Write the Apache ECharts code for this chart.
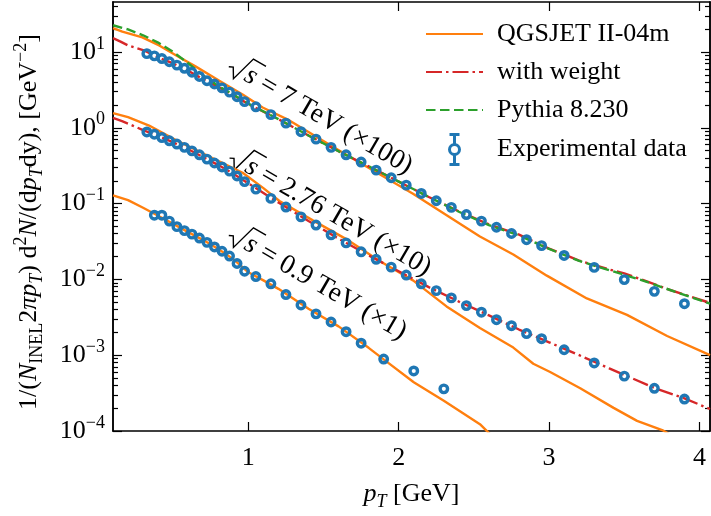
<!DOCTYPE html>
<html><head><meta charset="utf-8">
<script src="https://cdn.jsdelivr.net/npm/echarts@6/dist/echarts.min.js"></script>
<style>html,body{margin:0;padding:0;background:#fff}#c{width:711px;height:516px}</style>
</head><body><div id="c"></div>
<script>
const FONT = '"Liberation Serif", "Times New Roman", serif';

// ---------- data (plotted values, scale factors included) ----------
const xTicks = [1, 2, 3, 4];
const yMajor = [1e-4, 1e-3, 1e-2, 1e-1, 1, 10];

// Experimental data
const exp7_pt  = [0.325,0.375,0.425,0.475,0.525,0.575,0.625,0.675,0.725,0.775,0.825,0.875,0.925,0.975,1.05,1.15,1.25,1.35,1.45,1.55,1.65,1.75,1.85,1.95,2.05,2.15,2.25,2.35,2.45,2.55,2.65,2.75,2.85,2.95,3.1,3.3,3.5,3.7,3.9];
const exp7_val = [9.5,8.88,8.19,7.43,6.71,6.09,5.40,4.75,4.17,3.78,3.36,2.95,2.57,2.21,1.89,1.49,1.15,0.888,0.708,0.552,0.440,0.353,0.276,0.219,0.175,0.136,0.109,0.0891,0.0716,0.0587,0.0487,0.0403,0.0334,0.0279,0.0207,0.0144,0.00993,0.00695,0.00478];
const exp276_pt  = [0.325,0.375,0.425,0.475,0.525,0.575,0.625,0.675,0.725,0.775,0.825,0.875,0.925,0.975,1.05,1.15,1.25,1.35,1.45,1.55,1.65,1.75,1.85,1.95,2.05,2.15,2.25,2.35,2.45,2.55,2.65,2.75,2.85,2.95,3.1,3.3,3.5,3.7,3.9];
const exp276_val = [0.880,0.822,0.743,0.673,0.610,0.552,0.496,0.440,0.386,0.343,0.304,0.268,0.231,0.195,0.155,0.117,0.090,0.0667,0.0521,0.0387,0.0303,0.0231,0.0184,0.0145,0.0114,0.00875,0.0071,0.0057,0.00451,0.00369,0.00294,0.00245,0.00193,0.00165,0.00118,0.00079,0.00053,0.000366,0.000264];
const exp09_pt  = [0.375,0.425,0.475,0.525,0.575,0.625,0.675,0.725,0.775,0.825,0.875,0.925,0.975,1.05,1.15,1.25,1.35,1.45,1.55,1.65,1.75,1.9,2.1,2.3];
const exp09_val = [0.0702,0.0702,0.0587,0.0496,0.0440,0.0395,0.0351,0.0308,0.0268,0.0235,0.0203,0.0162,0.0128,0.0109,0.00875,0.00631,0.00459,0.00351,0.00274,0.00204,0.00144,0.00089,0.00062,0.00036];

// QGSJET II-04m
const qgs7_pt  = [0.1,0.162,0.295,0.407,0.518,0.651,0.807,0.962,1.095,1.273,1.651,2.095,2.54,2.762,2.985,3.251,3.518,3.785,4.07];
const qgs7_val = [20.6,18.5,15.6,12.2,9.03,6.40,4.17,2.75,1.85,1.25,0.44,0.135,0.0368,0.0213,0.0112,0.0056,0.0034,0.00179,0.0010];
const qgs276_pt  = [0.1,0.2,0.34,0.518,0.74,0.962,1.1,1.207,1.429,1.651,1.873,2.095,2.318,2.54,2.762,2.895,3.007,3.207,3.429,3.585,3.752,3.85];
const qgs276_val = [1.56,1.38,1.07,0.687,0.418,0.255,0.16,0.108,0.060,0.034,0.0175,0.0097,0.0044,0.00229,0.00126,0.00077,0.00060,0.000366,0.000202,0.000136,0.000103,0.00008];
const qgs09_pt  = [0.1,0.2,0.3,0.4,0.5,0.6,0.7,0.8,0.9,1.0,1.1,1.2,1.4,1.6,1.8,1.9,2.1,2.3,2.54,2.65];
const qgs09_val = [0.128,0.111,0.088,0.069,0.054,0.042,0.033,0.0252,0.0185,0.0124,0.0097,0.0075,0.0041,0.0024,0.00125,0.00088,0.00044,0.00025,0.000123,0.000075];

// with weight
const wgt7_pt  = [0.1,0.15,0.2,0.3,0.4,0.5,0.6,0.7,0.8,0.9,1.0,1.2,1.4,1.6,1.8,2.0,2.2,2.4,2.6,2.8,3.0,3.2,3.4,3.5,3.6,3.8,4.07];
const wgt7_val = [15.2,13.7,12.2,10.6,8.5,7.05,5.65,4.35,3.45,2.7,2.05,1.3,0.79,0.49,0.31,0.195,0.122,0.079,0.053,0.039,0.0255,0.0177,0.0135,0.0120,0.0102,0.0073,0.0049];
const wgt276_pt  = [0.1,0.16,0.23,0.3,0.4,0.5,0.6,0.7,0.8,0.9,1.0,1.2,1.4,1.6,1.8,2.0,2.2,2.4,2.6,2.8,3.0,3.2,3.4,3.5,3.7,3.9,4.07];
const wgt276_val = [1.35,1.22,1.07,0.93,0.78,0.64,0.52,0.41,0.322,0.248,0.185,0.103,0.059,0.0345,0.0207,0.0128,0.0079,0.0051,0.00335,0.00218,0.00148,0.00100,0.00067,0.00055,0.00037,0.00027,0.000195];

// Pythia 8.230
const py7_pt  = [0.1,0.2,0.3,0.4,0.5,0.6,0.7,0.8,0.9,1.0,1.2,1.4,1.6,1.8,2.0,2.2,2.4,2.6,2.8,3.0,3.2,3.4,3.6,3.8,4.07];
const py7_val = [22.5,19.8,16.6,13.3,10.0,7.1,4.9,3.55,2.75,2.08,1.3,0.79,0.49,0.31,0.195,0.122,0.078,0.052,0.038,0.0252,0.0175,0.0132,0.0100,0.0073,0.0048];

// annotations
const annTexts = [' = 7 TeV (\u00d7100)', ' = 2.76 TeV (\u00d710)', ' = 0.9 TeV (\u00d71)'];
const annAt = [[0.88, 6.9], [0.885, 0.43], [0.88, 0.041]];

// ---------- build ----------
const zip = (a, b) => a.map((x, i) => [x, b[i]]);
const C_ORANGE = '#ff7f0e', C_RED = '#d62728', C_GREEN = '#2ca02c', C_BLUE = '#1f77b4';
const LW = 2.4;

const minorY = [];
for (let k = -4; k <= 1; k++) for (let m = 2; m <= 9; m++) {
  const v = +(m * Math.pow(10, k)).toPrecision(3);
  if (v <= 45.6) minorY.push(v);
}

const supRich = {
  b: { fontSize: 26, fontFamily: FONT, color: '#000', lineHeight: 34 },
  s: { fontSize: 18, fontFamily: FONT, color: '#000', lineHeight: 18, verticalAlign: 'top' }
};

function yAx(pos, ticks, len, label) {
  return {
    type: 'log', position: pos, min: 1e-4, max: 45.6, logBase: 10,
    axisLine: { show: true, onZero: false, lineStyle: { color: '#000', width: 1.5 } },
    axisTick: { show: true, inside: true, length: len, customValues: ticks, lineStyle: { color: '#000', width: 1.2 } },
    axisLabel: label ? {
      show: true, margin: 8, customValues: yMajor,
      formatter: v => {
        const e = Math.round(Math.log10(v));
        return '{b|10}{s|' + (e < 0 ? '\u2212' + (-e) : e) + '}';
      },
      rich: supRich
    } : { show: false },
    splitLine: { show: false }, minorTick: { show: false }
  };
}
function xAx(pos, label) {
  const o = {
    type: 'value', position: pos, min: 0.1, max: 4.07,
    axisLine: { show: true, onZero: false, lineStyle: { color: '#000', width: 1.5 } },
    axisTick: { show: true, inside: true, length: 9, customValues: xTicks, lineStyle: { color: '#000', width: 1.2 } },
    axisLabel: label ? { show: true, margin: 14, customValues: xTicks, fontSize: 26, fontFamily: FONT, color: '#000' } : { show: false },
    splitLine: { show: false }
  };
  if (label) {
    o.name = '{i|p}{sub|T}{n| [GeV]}';
    o.nameLocation = 'middle';
    o.nameGap = 46;
    o.nameTextStyle = {
      rich: {
        i: { fontSize: 26, fontFamily: FONT, fontStyle: 'italic', color: '#000', lineHeight: 34 },
        sub: { fontSize: 18, fontFamily: FONT, fontStyle: 'italic', color: '#000', lineHeight: 18, verticalAlign: 'bottom' },
        n: { fontSize: 26, fontFamily: FONT, color: '#000', lineHeight: 34 }
      }
    };
  }
  return o;
}

function lineS(name, pts, vals, color, type, z) {
  return {
    type: 'line', name, data: zip(pts, vals), xAxisIndex: 0, yAxisIndex: 0,
    symbol: 'none', smooth: false, clip: true, z,
    lineStyle: { color, width: LW, type, cap: 'butt' }, itemStyle: { color },
    emphasis: { disabled: true }
  };
}
function expS(pts, vals) {
  return {
    type: 'scatter', name: 'Experimental data', data: zip(pts, vals), xAxisIndex: 0, yAxisIndex: 0,
    symbol: 'circle', symbolSize: 7.5, z: 10,
    itemStyle: { color: 'rgba(0,0,0,0)', borderColor: C_BLUE, borderWidth: 3.4, opacity: 1 },
    emphasis: { disabled: true }
  };
}
const DASHDOT = [16, 4, 2.5, 4];
const DASHED = [9.5, 4.5];
const hiddenSym = { color: 'rgba(0,0,0,0)', borderColor: 'rgba(0,0,0,0)', borderWidth: 0, opacity: 0 };

const chart = echarts.init(document.getElementById('c'), null, { renderer: 'canvas' });
chart.setOption({
  animation: false,
  backgroundColor: '#fff',
  grid: { left: 113, top: 2, width: 597, height: 438 },
  xAxis: [xAx('bottom', true), xAx('top', false)],
  yAxis: [
    yAx('left', yMajor, 9, true),
    yAx('left', minorY, 5, false),
    yAx('right', yMajor, 9, false),
    yAx('right', minorY, 5, false)
  ],
  legend: {
    orient: 'vertical', left: 420, top: 14,
    itemWidth: 57, itemHeight: 30, itemGap: 8,
    selectedMode: false,
    textStyle: { fontSize: 26, fontFamily: FONT, color: '#000', lineHeight: 30, padding: [0, 0, 0, 9] },
    data: [
      { name: 'QGSJET II-04m', itemStyle: hiddenSym },
      { name: 'with weight', itemStyle: hiddenSym },
      { name: 'Pythia 8.230', itemStyle: hiddenSym },
      { name: 'Experimental data',
        icon: 'path://M3,0H13M8,0V10M8,20V30M3,30H13M8,10A5,5,0,1,1,8,20A5,5,0,1,1,8,10Z',
        itemStyle: { color: 'rgba(0,0,0,0)', borderColor: C_BLUE, borderWidth: 3, opacity: 1 } }
    ]
  },
  series: [
    lineS('QGSJET II-04m', qgs7_pt, qgs7_val, C_ORANGE, 'solid', 2),
    lineS('QGSJET II-04m', qgs276_pt, qgs276_val, C_ORANGE, 'solid', 2),
    lineS('QGSJET II-04m', qgs09_pt, qgs09_val, C_ORANGE, 'solid', 2),
    lineS('with weight', wgt7_pt, wgt7_val, C_RED, DASHDOT, 3),
    lineS('with weight', wgt276_pt, wgt276_val, C_RED, DASHDOT, 3),
    lineS('Pythia 8.230', py7_pt, py7_val, C_GREEN, DASHED, 4),
    expS(exp7_pt, exp7_val),
    expS(exp276_pt, exp276_val),
    expS(exp09_pt, exp09_val)
  ]
});

// y-axis title
const yr = {
  n: { fontSize: 26, fontFamily: FONT, color: '#000', lineHeight: 34 },
  i: { fontSize: 26, fontFamily: FONT, fontStyle: 'italic', color: '#000', lineHeight: 34 },
  sub: { fontSize: 18, fontFamily: FONT, color: '#000', lineHeight: 18, verticalAlign: 'bottom' },
  subi: { fontSize: 18, fontFamily: FONT, fontStyle: 'italic', color: '#000', lineHeight: 18, verticalAlign: 'bottom' },
  sup: { fontSize: 18, fontFamily: FONT, color: '#000', lineHeight: 18, verticalAlign: 'top' }
};
const yTitle = '{n|1/(}{i|N}{sub|INEL}{n|2}{i|\u03c0p}{subi|T}{n|) d}{sup|2}{i|N}{n|/(d}{i|p}{subi|T}{n|dy), [GeV}{sup|\u22122}{n|]}';

const annRich = {
  s: { fontSize: 27.5, fontFamily: FONT, fontStyle: 'italic', color: '#000' },
  t: { fontSize: 27.5, fontFamily: FONT, color: '#000' }
};
const graphics = [{
  type: 'text', x: 29, y: 222, rotation: Math.PI / 2, silent: true,
  style: { text: yTitle, rich: yr, align: 'center', verticalAlign: 'middle', fontSize: 26, fontFamily: FONT, fill: '#000' }
}];
annAt.forEach((a, i) => {
  const p = chart.convertToPixel({ xAxisIndex: 0, yAxisIndex: 0 }, a);
  graphics.push({
    type: 'group', x: p[0], y: p[1], rotation: -30 * Math.PI / 180, silent: true,
    children: [
      { type: 'polyline', shape: { points: [[0, 3], [4, 1], [10, 11], [17.5, -16], [32, -16]] },
        style: { stroke: '#000', lineWidth: 1.4, fill: null } },
      { type: 'text', x: 18.5, y: 0,
        style: { text: '{s|s}{t|' + annTexts[i] + '}', rich: annRich, align: 'left', verticalAlign: 'middle', fontSize: 27.5, fontFamily: FONT, fill: '#000' } }
    ]
  });
});
chart.setOption({ graphic: graphics });
</script>
</body></html>
